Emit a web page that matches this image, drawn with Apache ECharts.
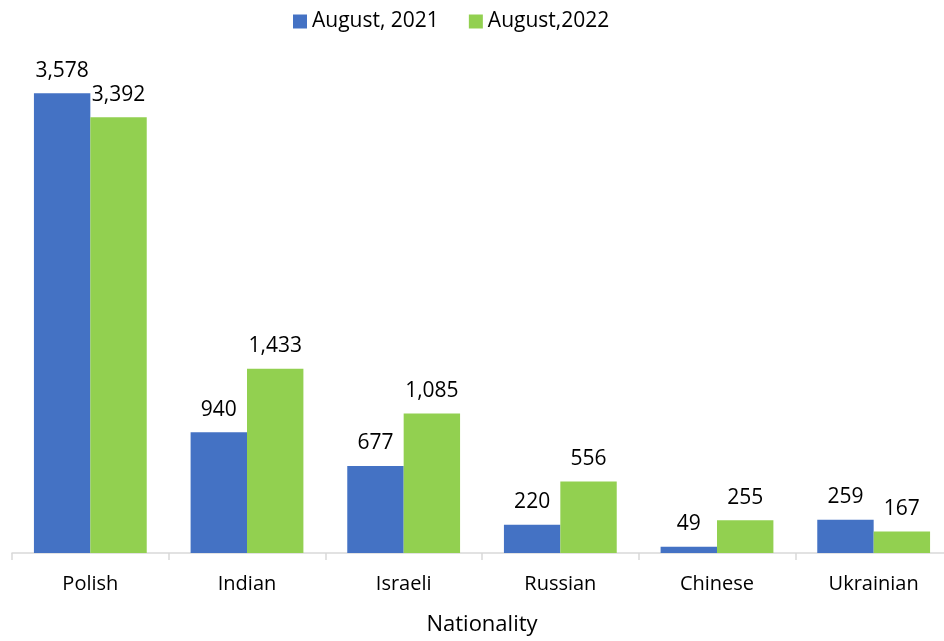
<!DOCTYPE html>
<html><head><meta charset="utf-8">
<script src="https://cdn.jsdelivr.net/npm/echarts@6/dist/echarts.min.js"></script>
<style>html,body{margin:0;padding:0;background:#fff;overflow:hidden;width:944px;height:641px}#c{width:952px;height:641px}</style>
</head><body><div id="c"></div>
<script>
const categories = ['Polish','Indian','Israeli','Russian','Chinese','Ukrainian'];
const aug2021 = [3578, 940, 677, 220, 49, 259];
const aug2022 = [3392, 1433, 1085, 556, 255, 167];
const seriesNames = ['August, 2021', 'August,2022'];
const font = '"Open Sans", "Liberation Sans", sans-serif';
const chart = echarts.init(document.getElementById('c'));
const lbl = {show:true, position:'top', distance:12, fontSize:21, fontFamily:font, color:'#000',
  formatter: p => p.value.toLocaleString('en-US')};
chart.setOption({
  animation:false,
  textStyle:{fontFamily:font},
  legend:{top:6, left:288, itemWidth:14, itemHeight:14, itemGap:30, icon:'rect',
    textStyle:{fontSize:21, color:'#000', fontFamily:font}},
  grid:{left:12, right:0, top:39, bottom:88, containLabel:false},
  xAxis:{type:'category', data:categories, name:'Nationality', nameLocation:'middle', nameGap:61,
    nameTextStyle:{fontSize:22, color:'#000', fontFamily:font},
    axisLine:{lineStyle:{color:'#d9d9d9', width:1.5}},
    axisTick:{show:true, alignWithLabel:false, length:7, lineStyle:{color:'#d9d9d9', width:1.5}},
    axisLabel:{fontSize:20, color:'#000', margin:21, fontFamily:font}},
  yAxis:{type:'value', min:0, max:4000, show:false, splitLine:{show:false}},
  series:[
    {name:seriesNames[0], type:'bar', data:aug2021, itemStyle:{color:'#4472c4'}, barGap:'0%', barCategoryGap:'28%', label:lbl},
    {name:seriesNames[1], type:'bar', data:aug2022, itemStyle:{color:'#92d050'}, barGap:'0%', barCategoryGap:'28%', label:lbl}
  ]
});
</script></body></html>
